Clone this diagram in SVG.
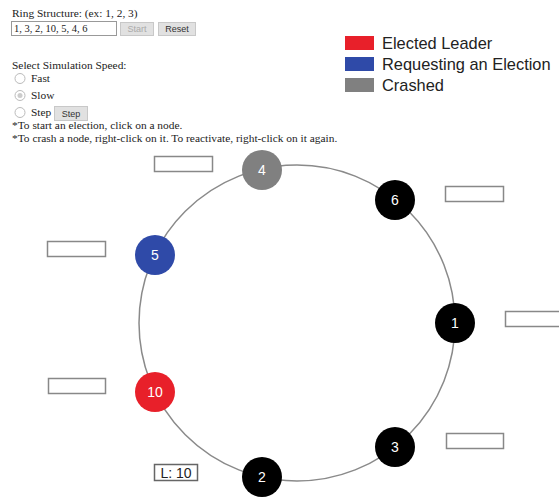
<svg xmlns="http://www.w3.org/2000/svg" width="559" height="497" viewBox="0 0 559 497">
<style>
.ui{font-family:"Liberation Serif","Times New Roman",serif;font-size:11.4px;fill:#222}
.btn{fill:#e1e1e1;stroke:#c8c8c8;stroke-width:1}
.btxt{font-family:"Liberation Sans",Arial,sans-serif;font-size:9px;text-anchor:middle}
.radio{fill:#fff;stroke:#bbb;stroke-width:1}
.leg{font-family:"Liberation Sans",Arial,sans-serif;font-size:16.4px;fill:#222}
.ring{fill:none;stroke:#8a8a8a;stroke-width:1.5}
.lbl{fill:#fff;stroke:#888;stroke-width:1.5}
.nt{font-family:"Liberation Sans",Arial,sans-serif;font-size:14px;fill:#fff;text-anchor:middle}
</style>
<rect width="559" height="497" fill="#fff"/>
<g id="controls">
<text class="ui" x="12" y="17">Ring Structure: (ex: 1, 2, 3)</text>
<rect x="11.5" y="21.5" width="105" height="14" fill="#fff" stroke="#999"/>
<text class="ui" x="14" y="32" style="font-size:10.5px">1, 3, 2, 10, 5, 4, 6</text>
<rect class="btn" x="120.5" y="22.5" width="33" height="13"/>
<text class="btxt" x="137" y="32" fill="#aaa">Start</text>
<rect class="btn" x="158.5" y="22.5" width="37" height="13"/>
<text class="btxt" x="177" y="32" fill="#333">Reset</text>
<text class="ui" x="12" y="69">Select Simulation Speed:</text>
<circle class="radio" cx="20" cy="78.5" r="5"/>
<text class="ui" x="31" y="82">Fast</text>
<circle class="radio" cx="20" cy="95.5" r="5"/>
<circle cx="20" cy="95.5" r="2.5" fill="#ccc"/>
<text class="ui" x="31" y="99">Slow</text>
<circle class="radio" cx="20" cy="112.5" r="5"/>
<text class="ui" x="31" y="116">Step</text>
<rect class="btn" x="54.5" y="106.5" width="33" height="14"/>
<text class="btxt" x="71" y="117" fill="#333">Step</text>
<text class="ui" x="12" y="129">*To start an election, click on a node.</text>
<text class="ui" x="12" y="142">*To crash a node, right-click on it. To reactivate, right-click on it again.</text>
</g>
<g id="legend">
<rect x="345" y="36" width="29" height="14" fill="#e8202a"/>
<text class="leg" x="382" y="49">Elected Leader</text>
<rect x="345" y="57" width="29" height="14" fill="#2f4aa8"/>
<text class="leg" x="382" y="70">Requesting an Election</text>
<rect x="345" y="78" width="29" height="14" fill="#808080"/>
<text class="leg" x="382" y="91">Crashed</text>
</g>
<g id="connectors">
<circle class="ring" cx="297" cy="323" r="158"/>
</g>
<g id="labels">
<rect class="lbl" x="154.5" y="156.5" width="58" height="15"/>
<rect class="lbl" x="445.5" y="186.5" width="58" height="15"/>
<rect class="lbl" x="505.5" y="311.5" width="58" height="15"/>
<rect class="lbl" x="446.5" y="433.5" width="57" height="15"/>
<rect class="lbl" x="47.5" y="241.5" width="58" height="15"/>
<rect class="lbl" x="48.5" y="378.5" width="57" height="15"/>
<rect x="154.5" y="464.5" width="43" height="16" fill="#fff" stroke="#666" stroke-width="1.5"/>
<text x="176" y="478" font-family="Liberation Sans,Arial,sans-serif" font-size="14" fill="#222" text-anchor="middle">L: 10</text>
</g>
<g id="node-1"><circle cx="455" cy="323" r="20" fill="#000"/><text class="nt" x="455" y="328">1</text></g>
<g id="node-3"><circle cx="395" cy="447" r="20" fill="#000"/><text class="nt" x="395" y="452">3</text></g>
<g id="node-2"><circle cx="262" cy="477" r="20" fill="#000"/><text class="nt" x="262" y="482">2</text></g>
<g id="node-10"><circle cx="155" cy="392" r="20" fill="#e8202a"/><text class="nt" x="155" y="397">10</text></g>
<g id="node-5"><circle cx="155" cy="255" r="20" fill="#2f4aa8"/><text class="nt" x="155" y="260">5</text></g>
<g id="node-4"><circle cx="262" cy="170" r="20" fill="#808080"/><text class="nt" x="262" y="175">4</text></g>
<g id="node-6"><circle cx="395" cy="200" r="20" fill="#000"/><text class="nt" x="395" y="205">6</text></g>
</svg>
